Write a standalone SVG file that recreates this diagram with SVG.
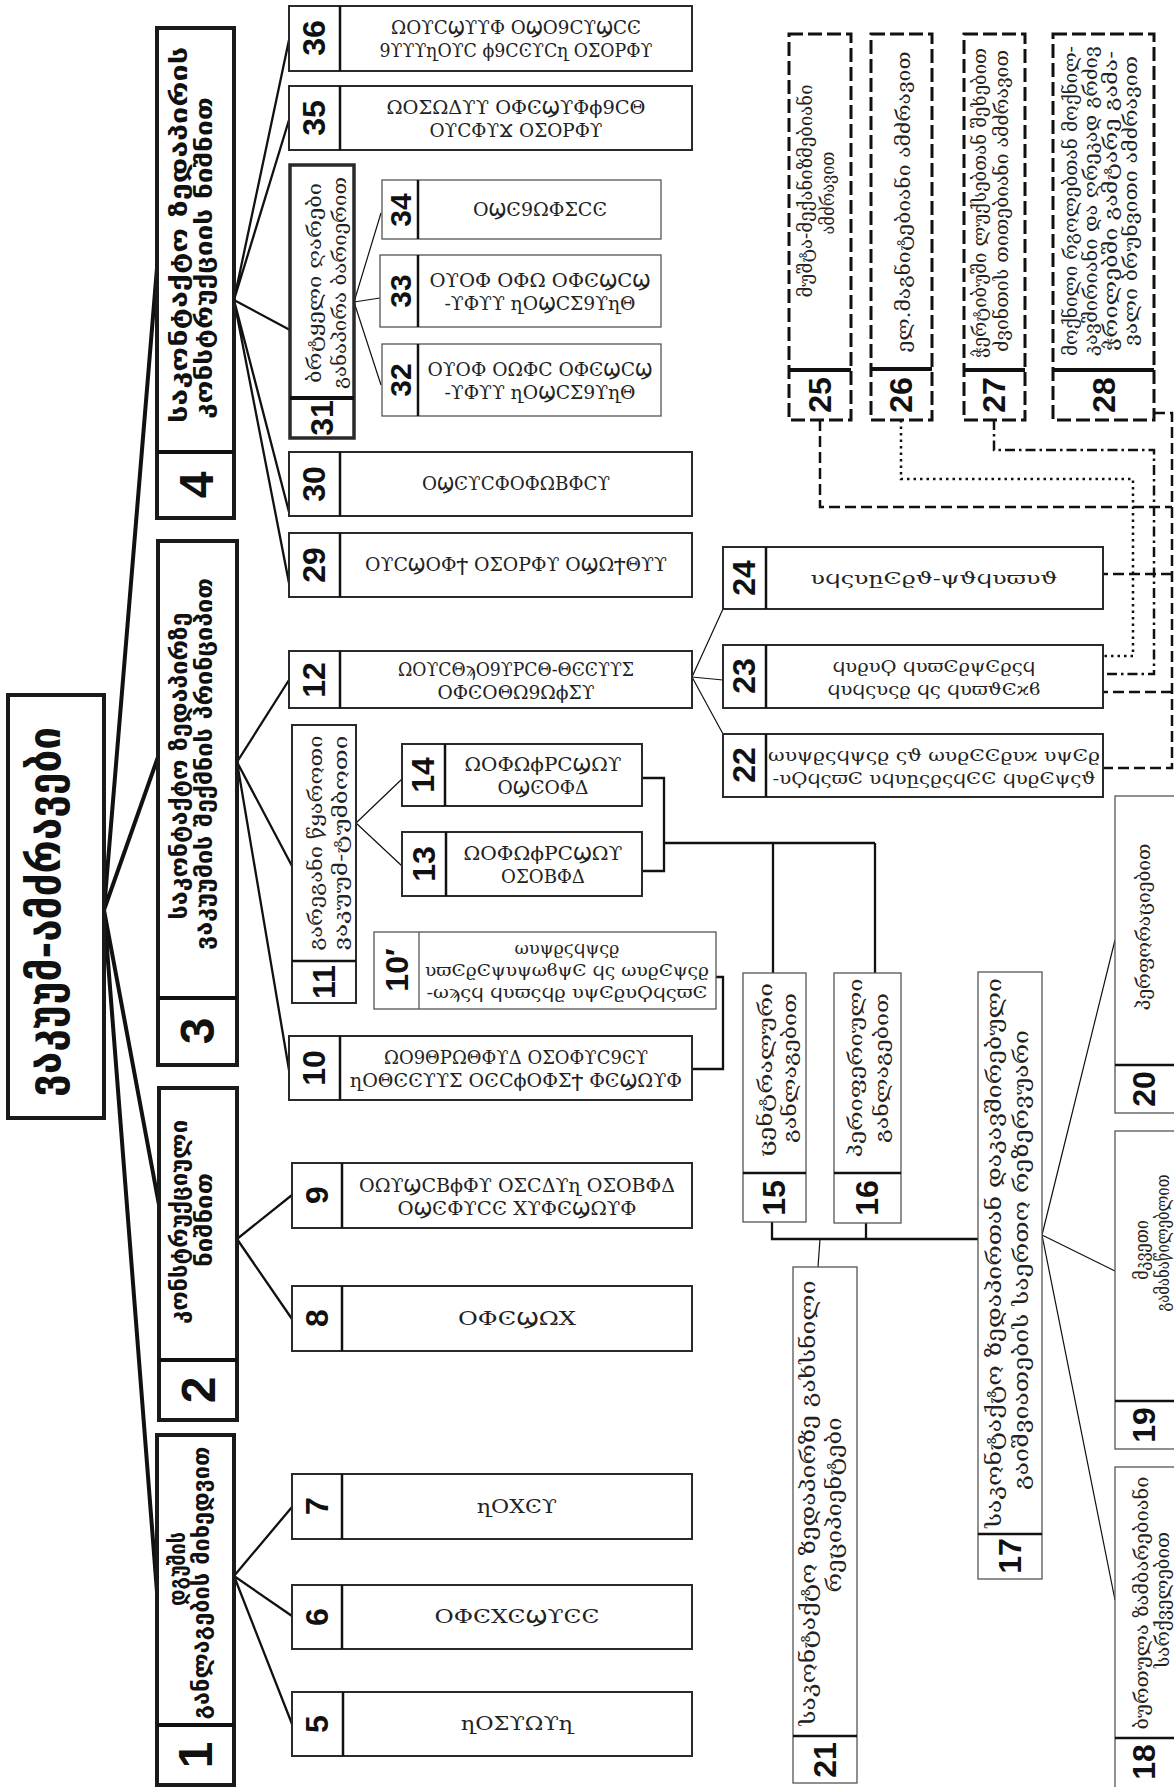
<svg xmlns="http://www.w3.org/2000/svg" width="1174" height="1787" viewBox="0 0 1174 1787">
<style>
.b{fill:#fff;stroke:#2a2a2a;stroke-width:2}
.bt{fill:#fff;stroke:#1a1a1a;stroke-width:4}
.bn{fill:#fff;stroke:#555;stroke-width:1.3}
.dv{stroke:#111;stroke-width:2.5;fill:none}
.dvt{stroke:#111;stroke-width:4;fill:none}
.l{stroke:#111;stroke-width:2.3;fill:none}
.lt{stroke:#111;stroke-width:1.2;fill:none}
.lh{stroke:#111;stroke-width:4;fill:none}
.n{font-family:"Liberation Sans Narrow","Liberation Sans",Arial,sans-serif;font-weight:bold;font-size:32px;text-anchor:middle;fill:#111}
.nh{font-family:"Liberation Sans Narrow","Liberation Sans",Arial,sans-serif;font-weight:bold;font-size:48px;text-anchor:middle;fill:#111}
.h{font-family:"DejaVu Sans Condensed","DejaVu Sans",sans-serif;font-weight:bold;font-size:23px;text-anchor:middle;fill:#111}
.g{font-family:"DejaVu Serif","DejaVu Sans",serif;font-size:18px;text-anchor:middle;fill:#222}
.s{font-family:"DejaVu Serif","DejaVu Sans",serif;font-size:18px;text-anchor:middle;fill:#222}
.sl{font-family:"DejaVu Serif","DejaVu Sans",serif;font-size:17px;text-anchor:middle;fill:#222}
.d1{stroke:#111;stroke-width:2.5;fill:none;stroke-dasharray:11 5}
.d2{stroke:#111;stroke-width:2.5;fill:none;stroke-dasharray:2.5 4}
.d3{stroke:#111;stroke-width:2.5;fill:none;stroke-dasharray:10 4 2.5 4}
.db{fill:#fff;stroke:#111;stroke-width:3;stroke-dasharray:14 5}
</style>
<rect width="1174" height="1787" fill="#fff"/>

<g id="connectors">
  <path class="lh" d="M104 910 L157 268 M104 910 L158 757 M104 910 L159 1205 M104 910 L157 1592"/>
  <path class="l" d="M234 300 L289 40 M234 300 L289 120 M234 300 L290 330 M234 300 L289 512 M234 300 L289 583"/>
  <path class="l" d="M237 762 L289 680 M237 762 L292 866 M237 762 L289 1070"/>
  <path class="l" d="M237 1239 L292 1195 M237 1239 L292 1319"/>
  <path class="l" d="M234 1576 L292 1507 M234 1576 L292 1616 M234 1576 L292 1724"/>
  <path class="lt" d="M354 302 L381 213 M354 302 L380 298 M354 302 L381 385"/>
  <path class="lt" d="M356 823 L402 779 M356 823 L402 866"/>
  <path class="lt" d="M692 677 L723 609 M692 677 L723 680 M692 677 L723 734"/>
  <path class="lt" d="M1042 1235 L1115 940 M1042 1235 L1115 1271 M1042 1235 L1115 1600"/>
  <path class="l" d="M642 778 H664 V871 H642 M664 843 H875 M773 843 V973 M875 843 V973"/>
  <path class="l" d="M692 1069 H723 V977 H716"/>
  <path class="l" d="M772 1222 V1239 H978 M866 1223 V1239"/>
  <path class="lt" d="M820 1239 L818 1267"/>
  <path class="d1" d="M820 420 V507 H1172"/>
  <path class="d2" d="M901 420 V479 H1133 V656 H1103"/>
  <path class="d3" d="M994 420 V450 H1154 V674 H1103"/>
  <path class="d1" d="M1154 413 H1172 V768 H1103 M1172 574 H1103 M1172 692 H1103"/>
</g>

<g id="title">
  <rect class="bt" x="8" y="695" width="96" height="423"/>
  <text class="h" style="font-size:44px" transform="translate(60,912) rotate(-90)" textLength="370" lengthAdjust="spacingAndGlyphs">ვაკუუმ-ამძრავები</text>
</g>

<g id="n4">
  <rect class="bt" x="157" y="28" width="77" height="490"/>
  <line class="dvt" x1="157" y1="452" x2="234" y2="452"/>
  <text class="nh" transform="translate(196,485) rotate(-90)" y="17">4</text>
  <text class="h" transform="translate(187,235) rotate(-90)" textLength="376" lengthAdjust="spacingAndGlyphs">საკონტაქტო ზედაპირის</text>
  <text class="h" transform="translate(212,258) rotate(-90)" textLength="322" lengthAdjust="spacingAndGlyphs">კონსტრუქციის ნიშნით</text>
</g>
<g id="n3">
  <rect class="bt" x="158" y="541" width="79" height="524"/>
  <line class="dvt" x1="158" y1="998" x2="237" y2="998"/>
  <text class="nh" transform="translate(197,1031) rotate(-90)" y="17">3</text>
  <text class="h" transform="translate(187,766) rotate(-90)" textLength="307" lengthAdjust="spacingAndGlyphs">საკონტაქტო ზედაპირზე</text>
  <text class="h" transform="translate(212,764) rotate(-90)" textLength="372" lengthAdjust="spacingAndGlyphs">ვაკუუმის შექმნის პრინციპით</text>
</g>
<g id="n2">
  <rect class="bt" x="159" y="1088" width="78" height="332"/>
  <line class="dvt" x1="159" y1="1360" x2="237" y2="1360"/>
  <text class="nh" transform="translate(198,1390) rotate(-90)" y="17">2</text>
  <text class="h" transform="translate(187,1222) rotate(-90)" textLength="204" lengthAdjust="spacingAndGlyphs">კონსტრუქციული</text>
  <text class="h" transform="translate(212,1220) rotate(-90)" textLength="94" lengthAdjust="spacingAndGlyphs">ნიშნით</text>
</g>
<g id="n1">
  <rect class="bt" x="157" y="1435" width="77" height="350"/>
  <line class="dvt" x1="157" y1="1725" x2="234" y2="1725"/>
  <text class="nh" transform="translate(195,1755) rotate(-90)" y="17">1</text>
  <text class="h" transform="translate(185,1569) rotate(-90)" textLength="74" lengthAdjust="spacingAndGlyphs">დგუშის</text>
  <text class="h" transform="translate(209,1583) rotate(-90)" textLength="273" lengthAdjust="spacingAndGlyphs">განლაგების მიხედვით</text>
</g>

<g id="n36">
  <rect class="b" x="289" y="6" width="403" height="65"/>
  <line class="dv" x1="340" y1="6" x2="340" y2="71"/>
  <text class="n" transform="translate(314,38) rotate(-90)" y="11">36</text>
  <text class="s" x="516" y="34" textLength="250" lengthAdjust="spacingAndGlyphs">ΩΟϒϹϢϒϒΦ ΟϢΟ9ϹϒϢϹϾ</text>
  <text class="s" x="516" y="57" textLength="273" lengthAdjust="spacingAndGlyphs">9ϒϒϒղΟϒϹ ϕ9ϹϾϒϹղ ΟΣΟΡΦϒ</text>
</g>
<g id="n35">
  <rect class="b" x="289" y="86" width="403" height="64"/>
  <line class="dv" x1="340" y1="86" x2="340" y2="150"/>
  <text class="n" transform="translate(314,118) rotate(-90)" y="11">35</text>
  <text class="s" x="516" y="114" textLength="259" lengthAdjust="spacingAndGlyphs">ΩΟΣΩΔϒϒ ΟΦϾϢϒΦϕ9ϹΘ</text>
  <text class="s" x="516" y="137" textLength="173" lengthAdjust="spacingAndGlyphs">ΟϒϹΦϒϪ ΟΣΟΡΦϒ</text>
</g>
<g id="n31">
  <rect class="b" style="stroke-width:3.5" x="290" y="165" width="64" height="273"/>
  <line class="dvt" x1="290" y1="398" x2="354" y2="398"/>
  <text class="n" transform="translate(322,418) rotate(-90)" y="11">31</text>
  <text class="g" transform="translate(321,283) rotate(-90)" textLength="200" lengthAdjust="spacingAndGlyphs">ბრტყელი ღარები</text>
  <text class="g" transform="translate(346,283) rotate(-90)" textLength="212" lengthAdjust="spacingAndGlyphs">განაპირა ბარიერით</text>
</g>
<g id="n34">
  <rect class="bn" x="382" y="180" width="279" height="59"/>
  <line class="dv" x1="418" y1="180" x2="418" y2="239"/>
  <text class="n" style="font-size:30px" transform="translate(400,210) rotate(-90)" y="11">34</text>
  <text class="s" x="540" y="216" textLength="134" lengthAdjust="spacingAndGlyphs">ΟϢϾ9ΩΦΣϹϾ</text>
</g>
<g id="n33">
  <rect class="bn" x="380" y="255" width="281" height="72"/>
  <line class="dv" x1="418" y1="255" x2="418" y2="327"/>
  <text class="n" style="font-size:30px" transform="translate(400,291) rotate(-90)" y="11">33</text>
  <text class="s" x="540" y="287" textLength="221" lengthAdjust="spacingAndGlyphs">ΟϒΟΦ ΟΦΩ ΟΦϾϢϹϢ</text>
  <text class="s" x="540" y="310" textLength="191" lengthAdjust="spacingAndGlyphs">-ϒΦϒϒ ղΟϢϹΣ9ϒղΘ</text>
</g>
<g id="n32">
  <rect class="bn" x="382" y="344" width="279" height="72"/>
  <line class="dv" x1="418" y1="344" x2="418" y2="416"/>
  <text class="n" style="font-size:30px" transform="translate(400,380) rotate(-90)" y="11">32</text>
  <text class="s" x="540" y="376" textLength="225" lengthAdjust="spacingAndGlyphs">ΟϒΟΦ ΟΩΦϹ ΟΦϾϢϹϢ</text>
  <text class="s" x="540" y="399" textLength="191" lengthAdjust="spacingAndGlyphs">-ϒΦϒϒ ղΟϢϹΣ9ϒղΘ</text>
</g>
<g id="n30">
  <rect class="b" x="289" y="452" width="403" height="64"/>
  <line class="dv" x1="340" y1="452" x2="340" y2="516"/>
  <text class="n" transform="translate(314,484) rotate(-90)" y="11">30</text>
  <text class="s" x="516" y="490" textLength="188" lengthAdjust="spacingAndGlyphs">ΟϢϾϒϹΦΟΦΩΒΦϹϒ</text>
</g>
<g id="n29">
  <rect class="b" x="289" y="533" width="403" height="64"/>
  <line class="dv" x1="340" y1="533" x2="340" y2="597"/>
  <text class="n" transform="translate(314,565) rotate(-90)" y="11">29</text>
  <text class="s" x="516" y="571" textLength="302" lengthAdjust="spacingAndGlyphs">ΟϒϹϢΟΦϮ ΟΣΟΡΦϒ ΟϢΩϮΘϒϒ</text>
</g>

<g id="n12">
  <rect class="b" x="289" y="651" width="403" height="57"/>
  <line class="dv" x1="340" y1="651" x2="340" y2="708"/>
  <text class="n" transform="translate(314,680) rotate(-90)" y="11">12</text>
  <text class="s" x="516" y="676" textLength="236" lengthAdjust="spacingAndGlyphs">ΩΟϒϹΘϡΟ9ϒΡϹΘ-ΘϾϾϒϒΣ</text>
  <text class="s" x="516" y="699" textLength="157" lengthAdjust="spacingAndGlyphs">ΟΦϾΟΘΩ9ΩϕΣϒ</text>
</g>
<g id="n11">
  <rect class="b" x="292" y="725" width="64" height="278"/>
  <line class="dv" x1="292" y1="961" x2="356" y2="961"/>
  <text class="n" transform="translate(324,982) rotate(-90)" y="11">11</text>
  <text class="g" transform="translate(322,843) rotate(-90)" textLength="215" lengthAdjust="spacingAndGlyphs">გარეგანი წყაროთი</text>
  <text class="g" transform="translate(347,843) rotate(-90)" textLength="215" lengthAdjust="spacingAndGlyphs">ვაკუუმ-ტუმბოთი</text>
</g>
<g id="n14">
  <rect class="b" x="402" y="744" width="240" height="62"/>
  <line class="dv" x1="445" y1="744" x2="445" y2="806"/>
  <text class="n" transform="translate(423,775) rotate(-90)" y="11">14</text>
  <text class="s" x="543" y="771" textLength="157" lengthAdjust="spacingAndGlyphs">ΩΟΦΩϕΡϹϢΩϒ</text>
  <text class="s" x="543" y="794" textLength="91" lengthAdjust="spacingAndGlyphs">ΟϢϾΟΦΔ</text>
</g>
<g id="n13">
  <rect class="b" x="402" y="832" width="240" height="64"/>
  <line class="dv" x1="446" y1="832" x2="446" y2="896"/>
  <text class="n" transform="translate(424,864) rotate(-90)" y="11">13</text>
  <text class="s" x="543" y="860" textLength="159" lengthAdjust="spacingAndGlyphs">ΩΟΦΩϕΡϹϢΩϒ</text>
  <text class="s" x="543" y="883" textLength="84" lengthAdjust="spacingAndGlyphs">ΟΣΟΒΦΔ</text>
</g>
<g id="n10p">
  <rect class="bn" x="374" y="932" width="342" height="77"/>
  <line class="bn" x1="419" y1="932" x2="419" y2="1009"/>
  <text class="n" transform="translate(397,970) rotate(-90)" y="11">10′</text>
  <text class="sl" x="567" y="954" textLength="105" lengthAdjust="spacingAndGlyphs">ωυψϱϛϥψςϱ</text>
  <text class="sl" x="567" y="976" textLength="284" lengthAdjust="spacingAndGlyphs">υϖϾϱϾψυψωϐψϾ ϥς ωυϱϾψςϱ</text>
  <text class="sl" x="567" y="998" textLength="281" lengthAdjust="spacingAndGlyphs">-ωϡςϥ ϥυϖςϥϱ υψϾϱυϘϥςϖϾ</text>
</g>
<g id="n10">
  <rect class="b" x="289" y="1036" width="403" height="64"/>
  <line class="dv" x1="340" y1="1036" x2="340" y2="1100"/>
  <text class="n" transform="translate(314,1068) rotate(-90)" y="11">10</text>
  <text class="s" x="516" y="1064" textLength="264" lengthAdjust="spacingAndGlyphs">ΩΟ9ΘΡΩΘΦϒΔ ΟΣΟΦϒϹ9Ͼϒ</text>
  <text class="s" x="516" y="1087" textLength="332" lengthAdjust="spacingAndGlyphs">ղΟΘϾϾϒϒΣ ΟϾϹϕΟΦΣϮ ΦϾϢΩϒΦ</text>
</g>

<g id="n9">
  <rect class="b" x="292" y="1163" width="400" height="65"/>
  <line class="dv" x1="342" y1="1163" x2="342" y2="1228"/>
  <text class="n" transform="translate(317,1195) rotate(-90)" y="11">9</text>
  <text class="s" x="517" y="1192" textLength="316" lengthAdjust="spacingAndGlyphs">ΟΩϒϢϹΒϕΦϒ ΟΣϹΔϒղ ΟΣΟΒΦΔ</text>
  <text class="s" x="517" y="1215" textLength="239" lengthAdjust="spacingAndGlyphs">ΟϢϾΦϒϹϾ ΧϒΦϾϢΩϒΦ</text>
</g>
<g id="n8">
  <rect class="b" x="292" y="1286" width="400" height="65"/>
  <line class="dv" x1="342" y1="1286" x2="342" y2="1351"/>
  <text class="n" transform="translate(317,1318) rotate(-90)" y="11">8</text>
  <text class="s" x="517" y="1325" textLength="118" lengthAdjust="spacingAndGlyphs">ΟΦϾϢΩΧ</text>
</g>

<g id="n7">
  <rect class="b" x="292" y="1474" width="400" height="65"/>
  <line class="dv" x1="342" y1="1474" x2="342" y2="1539"/>
  <text class="n" transform="translate(317,1506) rotate(-90)" y="11">7</text>
  <text class="s" x="517" y="1513" textLength="80" lengthAdjust="spacingAndGlyphs">ղΟΧϾϒ</text>
</g>
<g id="n6">
  <rect class="b" x="292" y="1585" width="400" height="64"/>
  <line class="dv" x1="342" y1="1585" x2="342" y2="1649"/>
  <text class="n" transform="translate(317,1617) rotate(-90)" y="11">6</text>
  <text class="s" x="517" y="1623" textLength="165" lengthAdjust="spacingAndGlyphs">ΟΦϾΧϾϢϒϾϾ</text>
</g>
<g id="n5">
  <rect class="b" x="292" y="1692" width="400" height="64"/>
  <line class="dv" x1="343" y1="1692" x2="343" y2="1756"/>
  <text class="n" transform="translate(317,1724) rotate(-90)" y="11">5</text>
  <text class="s" x="517" y="1730" textLength="112" lengthAdjust="spacingAndGlyphs">ղΟΣϒΩϒղ</text>
</g>

<g id="n24">
  <rect class="b" x="723" y="547" width="380" height="62"/>
  <line class="dv" x1="766" y1="547" x2="766" y2="609"/>
  <text class="n" transform="translate(744,578) rotate(-90)" y="11">24</text>
  <text class="sl" x="934" y="584" textLength="247" lengthAdjust="spacingAndGlyphs">υϥςυըϾϱϑ-ψϑϥυϖυϑ</text>
</g>
<g id="n23">
  <rect class="b" x="723" y="645" width="380" height="63"/>
  <line class="dv" x1="766" y1="645" x2="766" y2="708"/>
  <text class="n" transform="translate(744,676) rotate(-90)" y="11">23</text>
  <text class="sl" x="934" y="672" textLength="203" lengthAdjust="spacingAndGlyphs">ϥυϱυϘ ϥυϖϾϱψϾϱςϥ</text>
  <text class="sl" x="934" y="695" textLength="213" lengthAdjust="spacingAndGlyphs">ϥυϥςυςϱ ϥς ϥυϖϑϾϰϐ</text>
</g>
<g id="n22">
  <rect class="b" x="723" y="734" width="380" height="63"/>
  <line class="dv" x1="766" y1="734" x2="766" y2="797"/>
  <text class="n" transform="translate(744,765) rotate(-90)" y="11">22</text>
  <text class="sl" x="934" y="761" textLength="332" lengthAdjust="spacingAndGlyphs">ωυψϱςϥψςϱ ςϑ ωυϱϾϾϱυϰ υψϾϱ</text>
  <text class="sl" x="934" y="784" textLength="323" lengthAdjust="spacingAndGlyphs">-υϘϥςϖϾ υϥυըςϱςϥϾϾ ϥυϱϾψςϑ</text>
</g>

<g id="n25">
  <rect class="db" x="789" y="34" width="62" height="386"/>
  <line class="dvt" x1="789" y1="370" x2="851" y2="370"/>
  <text class="n" transform="translate(820,395) rotate(-90)" y="11">25</text>
  <text class="g" transform="translate(812,191) rotate(-90)" textLength="213" lengthAdjust="spacingAndGlyphs">მუშტა-მექანიზმებიანი</text>
  <text class="g" transform="translate(834,193) rotate(-90)" textLength="83" lengthAdjust="spacingAndGlyphs">ამძრავით</text>
</g>
<g id="n26">
  <rect class="db" x="871" y="34" width="61" height="386"/>
  <line class="dvt" x1="871" y1="369" x2="932" y2="369"/>
  <text class="n" transform="translate(901,395) rotate(-90)" y="11">26</text>
  <text class="g" transform="translate(910,202) rotate(-90)" textLength="301" lengthAdjust="spacingAndGlyphs">ელ.მაგნიტებიანი ამძრავით</text>
</g>
<g id="n27">
  <rect class="db" x="964" y="34" width="61" height="386"/>
  <line class="dvt" x1="964" y1="370" x2="1025" y2="370"/>
  <text class="n" transform="translate(994,395) rotate(-90)" y="11">27</text>
  <text class="g" transform="translate(986,203) rotate(-90)" textLength="310" lengthAdjust="spacingAndGlyphs">ჭერტიბუში ლუქსებთან შეხებით</text>
  <text class="g" transform="translate(1008,201) rotate(-90)" textLength="302" lengthAdjust="spacingAndGlyphs">ძვინთის თითებიანი ამძრავით</text>
</g>
<g id="n28">
  <rect class="db" x="1053" y="34" width="101" height="386"/>
  <line class="dvt" x1="1053" y1="370" x2="1154" y2="370"/>
  <text class="n" transform="translate(1104,395) rotate(-90)" y="11">28</text>
  <text class="g" transform="translate(1077,201) rotate(-90)" textLength="310" lengthAdjust="spacingAndGlyphs">მოქნილი რგოლებთან მოქნილ-</text>
  <text class="g" transform="translate(1097,201) rotate(-90)" textLength="310" lengthAdjust="spacingAndGlyphs">კავშირიანი და ღრეკად გრძივ</text>
  <text class="g" transform="translate(1117,201) rotate(-90)" textLength="300" lengthAdjust="spacingAndGlyphs">ჭრილებში გამტარე გამა-</text>
  <text class="g" transform="translate(1137,201) rotate(-90)" textLength="290" lengthAdjust="spacingAndGlyphs">ვალი ბრუნვითი ამძრავით</text>
</g>

<g id="n15">
  <rect class="bn" x="743" y="973" width="63" height="249"/>
  <line class="dv" x1="743" y1="1173" x2="806" y2="1173"/>
  <text class="n" transform="translate(774,1198) rotate(-90)" y="11">15</text>
  <text class="g" transform="translate(772,1070) rotate(-90)" textLength="174" lengthAdjust="spacingAndGlyphs">ცენტრალური</text>
  <text class="g" transform="translate(796,1068) rotate(-90)" textLength="150" lengthAdjust="spacingAndGlyphs">განლაგებით</text>
</g>
<g id="n16">
  <rect class="bn" x="834" y="973" width="67" height="250"/>
  <line class="dv" x1="834" y1="1173" x2="901" y2="1173"/>
  <text class="n" transform="translate(867,1198) rotate(-90)" y="11">16</text>
  <text class="g" transform="translate(862,1068) rotate(-90)" textLength="179" lengthAdjust="spacingAndGlyphs">პერიფერიული</text>
  <text class="g" transform="translate(888,1068) rotate(-90)" textLength="150" lengthAdjust="spacingAndGlyphs">განლაგებით</text>
</g>
<g id="n17">
  <rect class="bn" x="978" y="972" width="64" height="607"/>
  <line class="dv" x1="978" y1="1534" x2="1042" y2="1534"/>
  <text class="n" transform="translate(1010,1556) rotate(-90)" y="11">17</text>
  <text class="g" style="font-size:21px" transform="translate(1001,1253) rotate(-90)" textLength="550" lengthAdjust="spacingAndGlyphs">საკონტაქტო ზედაპირთან დაკავშირებული</text>
  <text class="g" style="font-size:21px" transform="translate(1028,1260) rotate(-90)" textLength="460" lengthAdjust="spacingAndGlyphs">გაიშვიათების საერთო რეზერვუარი</text>
</g>
<g id="n21">
  <rect class="bn" x="793" y="1267" width="64" height="516"/>
  <line class="dv" x1="793" y1="1736" x2="857" y2="1736"/>
  <text class="n" transform="translate(825,1760) rotate(-90)" y="11">21</text>
  <text class="g" style="font-size:21px" transform="translate(815,1503) rotate(-90)" textLength="445" lengthAdjust="spacingAndGlyphs">საკონტაქტო ზედაპირზე გახსნილი</text>
  <text class="g" style="font-size:21px" transform="translate(841,1505) rotate(-90)" textLength="175" lengthAdjust="spacingAndGlyphs">რეციპიენტები</text>
</g>
<g id="n20">
  <rect class="bn" x="1115" y="796" width="60" height="317"/>
  <line class="dv" x1="1115" y1="1065" x2="1175" y2="1065"/>
  <text class="n" transform="translate(1144,1089) rotate(-90)" y="11">20</text>
  <text class="g" transform="translate(1150,927) rotate(-90)" textLength="167" lengthAdjust="spacingAndGlyphs">პერფორაციებით</text>
</g>
<g id="n19">
  <rect class="bn" x="1115" y="1131" width="60" height="318"/>
  <line class="dv" x1="1115" y1="1401" x2="1175" y2="1401"/>
  <text class="n" transform="translate(1144,1425) rotate(-90)" y="11">19</text>
  <text class="g" transform="translate(1148,1250) rotate(-90)" textLength="60" lengthAdjust="spacingAndGlyphs">მკვეთი</text>
  <text class="g" transform="translate(1169,1243) rotate(-90)" textLength="137" lengthAdjust="spacingAndGlyphs">გამანაწილებლით</text>
</g>
<g id="n18">
  <rect class="bn" x="1115" y="1467" width="60" height="322"/>
  <line class="dv" x1="1115" y1="1738" x2="1175" y2="1738"/>
  <text class="n" transform="translate(1144,1762) rotate(-90)" y="11">18</text>
  <text class="g" transform="translate(1148,1603) rotate(-90)" textLength="253" lengthAdjust="spacingAndGlyphs">ბურთულა ზამბარებიანი</text>
  <text class="g" transform="translate(1169,1600) rotate(-90)" textLength="136" lengthAdjust="spacingAndGlyphs">სარქველებით</text>
</g>
</svg>
